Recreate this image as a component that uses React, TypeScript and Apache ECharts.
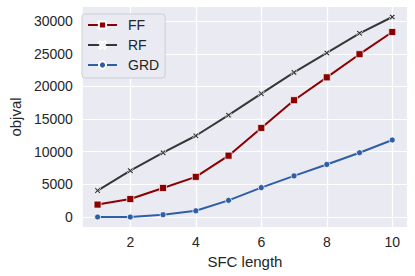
import React, { useEffect, useRef } from "react";
import * as echarts from "echarts";

const sfcLength = [1, 2, 3, 4, 5, 6, 7, 8, 9, 10];
const ffValues = [1900, 2750, 4450, 6150, 9400, 13650, 17900, 21400, 24950, 28350];
const rfValues = [4050, 7100, 9850, 12450, 15600, 18900, 22150, 25150, 28150, 30650];
const grdValues = [0, 0, 350, 950, 2550, 4500, 6300, 8050, 9850, 11800];
const xTicks = [2, 4, 6, 8, 10];
const yTicks = [0, 5000, 10000, 15000, 20000, 25000, 30000];

const X_SYMBOL = "path://M2,0 L5,3 L8,0 L10,2 L7,5 L10,8 L8,10 L5,7 L2,10 L0,8 L3,5 L0,2 Z";

export default function App() {
  const ref = useRef<HTMLDivElement>(null);
  useEffect(() => {
    if (!ref.current) return;
    const chart = echarts.init(ref.current, undefined, { renderer: "svg" });
    const pair = (ys: number[]) => sfcLength.map((x, i) => [x, ys[i]]);
    const font = "Arial, 'Liberation Sans', sans-serif";
    const txt = "#262626";
    const mk = (name: string, data: number[], color: string, symbol: string, size: number) => ({
      name,
      type: "line",
      data: pair(data),
      symbol,
      symbolSize: size,
      showSymbol: true,
      lineStyle: { color, width: 2 },
      itemStyle: { color, borderColor: "#ffffff", borderWidth: 0.7 },
      emphasis: { disabled: true },
    });
    chart.setOption({
      animation: false,
      grid: {
        left: 75,
        right: 8,
        top: 7,
        bottom: 49,
        show: true,
        backgroundColor: "#EAEAF2",
        borderWidth: 0,
      },
      legend: {
        left: 82,
        top: 14,
        orient: "vertical",
        itemWidth: 29,
        itemHeight: 9,
        itemGap: 4,
        padding: [3, 6, 5, 5],
        backgroundColor: "#EAEAF2",
        borderColor: "#CDCDD4",
        borderWidth: 1,
        borderRadius: 3,
        textStyle: { fontFamily: font, fontSize: 14, lineHeight: 16, color: txt, padding: [0, 0, 0, 6] },
        data: ["FF", "RF", "GRD"],
      },
      xAxis: {
        type: "value",
        min: 0.55,
        max: 10.45,
        name: "SFC length",
        nameLocation: "middle",
        nameGap: 24,
        nameTextStyle: { fontFamily: font, fontSize: 15, color: txt },
        axisLine: { show: false },
        axisTick: { show: false, customValues: xTicks },
        axisLabel: {
          customValues: xTicks,
          formatter: (v: number) => String(v),
          fontFamily: font,
          fontSize: 14,
          color: txt,
          margin: 8,
        },
        splitLine: { show: true, lineStyle: { color: "#ffffff", width: 1.2 } },
      },
      yAxis: {
        type: "value",
        min: -1532,
        max: 32182,
        name: "objval",
        nameLocation: "middle",
        nameGap: 55,
        nameTextStyle: { fontFamily: font, fontSize: 15, color: txt },
        axisLine: { show: false },
        axisTick: { show: false, customValues: yTicks },
        axisLabel: {
          customValues: yTicks,
          formatter: (v: number) => String(v),
          fontFamily: font,
          fontSize: 14,
          color: txt,
          margin: 10,
        },
        splitLine: { show: true, lineStyle: { color: "#ffffff", width: 1.2 } },
      },
      series: [
        mk("FF", ffValues, "#8B0000", "rect", 7),
        mk("RF", rfValues, "#363636", X_SYMBOL, 6),
        mk("GRD", grdValues, "#2E5EA6", "circle", 6),
      ],
    });
    return () => chart.dispose();
  }, []);
  return (
    <div
      ref={ref}
      style={{ position: "fixed", left: 0, top: 0, width: 415, height: 276, background: "#ffffff" }}
    />
  );
}
